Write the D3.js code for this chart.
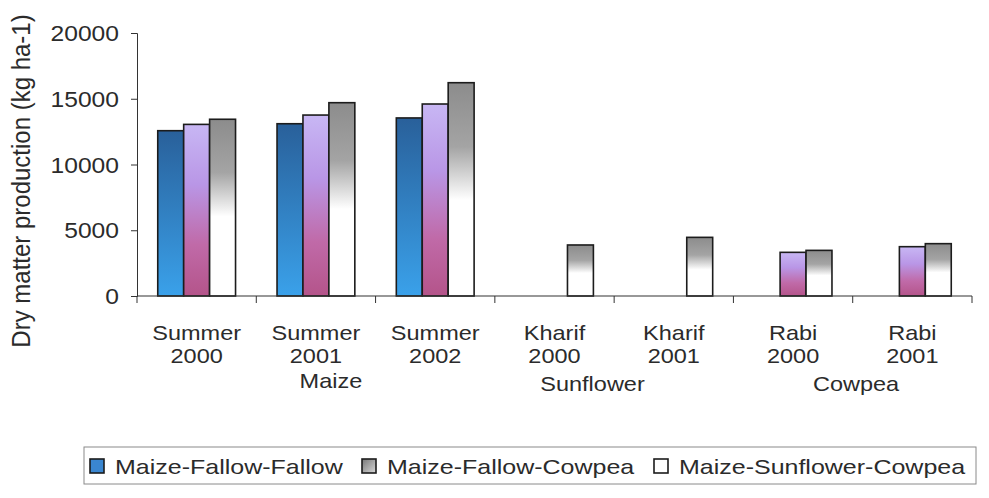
<!DOCTYPE html>
<html>
<head>
<meta charset="utf-8">
<script src="https://cdn.jsdelivr.net/npm/d3@7"></script>
<style>
  body { margin: 0; background: #fff; }
  svg { display: block; font-family: "Liberation Sans", Arial, sans-serif; }
</style>
</head>
<body>
<svg id="chart" width="989" height="498"></svg>
<script>
// data
const categories = ["Summer 2000", "Summer 2001", "Summer 2002", "Kharif 2000", "Kharif 2001", "Rabi 2000", "Rabi 2001"];
const series = ["Maize-Fallow-Fallow", "Maize-Fallow-Cowpea", "Maize-Sunflower-Cowpea"];
const mffValues = [12570, 13100, 13540, null, null, null, null];
const mfcValues = [13050, 13760, 14600, null, null, 3320, 3750];
const mscValues = [13440, 14700, 16220, 3880, 4460, 3470, 3980];
const yTicks = [0, 5000, 10000, 15000, 20000];
const cropGroups = ["Maize", "Sunflower", "Cowpea"];
const cropGroupAt = [1, 3, 5];   // category the crop name hangs from

const values = [mffValues, mfcValues, mscValues];

// layout
const svg = d3.select("#chart");
const plotLeft = 137, plotRight = 972, plotTop = 33, plotBottom = 296;
const sx = 1.12;  // the scan is a bit wider than tall
const inkColor = "#2b2b2b";

function addText(x, y, str, size, anchor, stretch) {
    // text with a horizontal stretch around its anchor point
    return svg.append("text")
        .attr("transform", "translate(" + x + "," + y + ") scale(" + stretch + ",1)")
        .attr("font-size", size)
        .attr("text-anchor", anchor)
        .attr("fill", inkColor)
        .text(str);
}

const x0 = d3.scaleBand().domain(categories).range([plotLeft, plotRight]).paddingInner(0).paddingOuter(0);
const x1 = d3.scaleBand().domain(series).range([0, x0.bandwidth()]).paddingInner(0).paddingOuter(0.8);
const yScale = d3.scaleLinear().domain([0, 20000]).range([plotBottom, plotTop]);

// gradients, one per series
const defs = svg.append("defs");
const gradStops = [
    [["0%", "#29609a"], ["100%", "#3aa1ea"]],
    [["0%", "#c8b7f4"], ["35%", "#b996e6"], ["70%", "#c06aa8"], ["100%", "#b4548a"]],
    [["0%", "#8c8c8c"], ["30%", "#a4a4a4"], ["55%", "#ffffff"], ["100%", "#ffffff"]]
];
gradStops.forEach((stops, i) => {
    const g = defs.append("linearGradient")
        .attr("id", "grad" + i)
        .attr("x1", 0).attr("y1", 0).attr("x2", 0).attr("y2", 1);
    stops.forEach(s => g.append("stop").attr("offset", s[0]).attr("stop-color", s[1]));
});

// bars
series.forEach((s, i) => {
    const rows = categories.map((c, j) => ({ cat: c, v: values[i][j] })).filter(d => d.v != null);
    svg.append("g").selectAll("rect")
        .data(rows)
        .join("rect")
        .attr("x", d => x0(d.cat) + x1(s))
        .attr("y", d => yScale(d.v))
        .attr("width", x1.bandwidth())
        .attr("height", d => plotBottom - yScale(d.v))
        .attr("fill", "url(#grad" + i + ")")
        .attr("stroke", "#1c1c1c")
        .attr("stroke-width", 1.6);
});

// y axis
const yAxis = svg.append("g")
    .attr("transform", "translate(" + plotLeft + ",0)")
    .call(d3.axisLeft(yScale).tickValues(yTicks).tickSize(6).tickFormat(""));
yAxis.selectAll("path, line").attr("stroke", "#333").attr("stroke-width", 1);
yTicks.forEach(t => addText(119, yScale(t) + 8, String(t), 22, "end", sx));

// x axis
const xAxisLine = svg.append("g");
xAxisLine.append("line")
    .attr("x1", plotLeft).attr("x2", plotRight).attr("y1", plotBottom).attr("y2", plotBottom)
    .attr("stroke", "#333").attr("stroke-width", 1.2);
xAxisLine.selectAll("line.tick")
    .data(categories.concat(["end"]))
    .join("line")
    .attr("class", "tick")
    .attr("x1", (d, i) => plotLeft + i * x0.step())
    .attr("x2", (d, i) => plotLeft + i * x0.step())
    .attr("y1", plotBottom).attr("y2", plotBottom + 7)
    .attr("stroke", "#333");

categories.forEach(c => {
    const cx = x0(c) + x0.bandwidth() / 2;
    const parts = c.split(" ");
    addText(cx, 340, parts[0], 21, "middle", sx);
    addText(cx, 363, parts[1], 21, "middle", sx);
});

// crop names under the category labels, nudged as in the original
const cropShift = [15, 38, 63];
const cropBase = [388, 391, 391];
cropGroups.forEach((g, i) => {
    const c = categories[cropGroupAt[i]];
    addText(x0(c) + x0.bandwidth() / 2 + cropShift[i], cropBase[i], g, 21, "middle", sx);
});

// y axis title
svg.append("text")
    .attr("transform", "translate(30,181) scale(1.1,1) rotate(-90)")
    .attr("font-size", 24)
    .attr("text-anchor", "middle")
    .attr("fill", inkColor)
    .text("Dry matter production (kg ha-1)");

// legend
const legend = svg.append("g");
legend.append("rect")
    .attr("x", 84).attr("y", 447).attr("width", 892).attr("height", 37)
    .attr("fill", "none").attr("stroke", "#8a8a8a").attr("stroke-width", 1);
const legX = [90, 362, 654];
const lg = defs.append("linearGradient").attr("id", "legGray")
    .attr("x1", 0).attr("y1", 0).attr("x2", 1).attr("y2", 1);
lg.append("stop").attr("offset", "0%").attr("stop-color", "#777");
lg.append("stop").attr("offset", "100%").attr("stop-color", "#d8d8d8");
const legendIcon = ["#3a86d0", "url(#legGray)", "#ffffff"];
series.forEach((s, i) => {
    legend.append("rect")
        .attr("x", legX[i]).attr("y", 459).attr("width", 14).attr("height", 14)
        .attr("fill", legendIcon[i]).attr("stroke", "#1c1c1c").attr("stroke-width", 1.6);
    addText(legX[i] + 25, 474, s, 21, "start", 1.19);
});
</script>
</body>
</html>
